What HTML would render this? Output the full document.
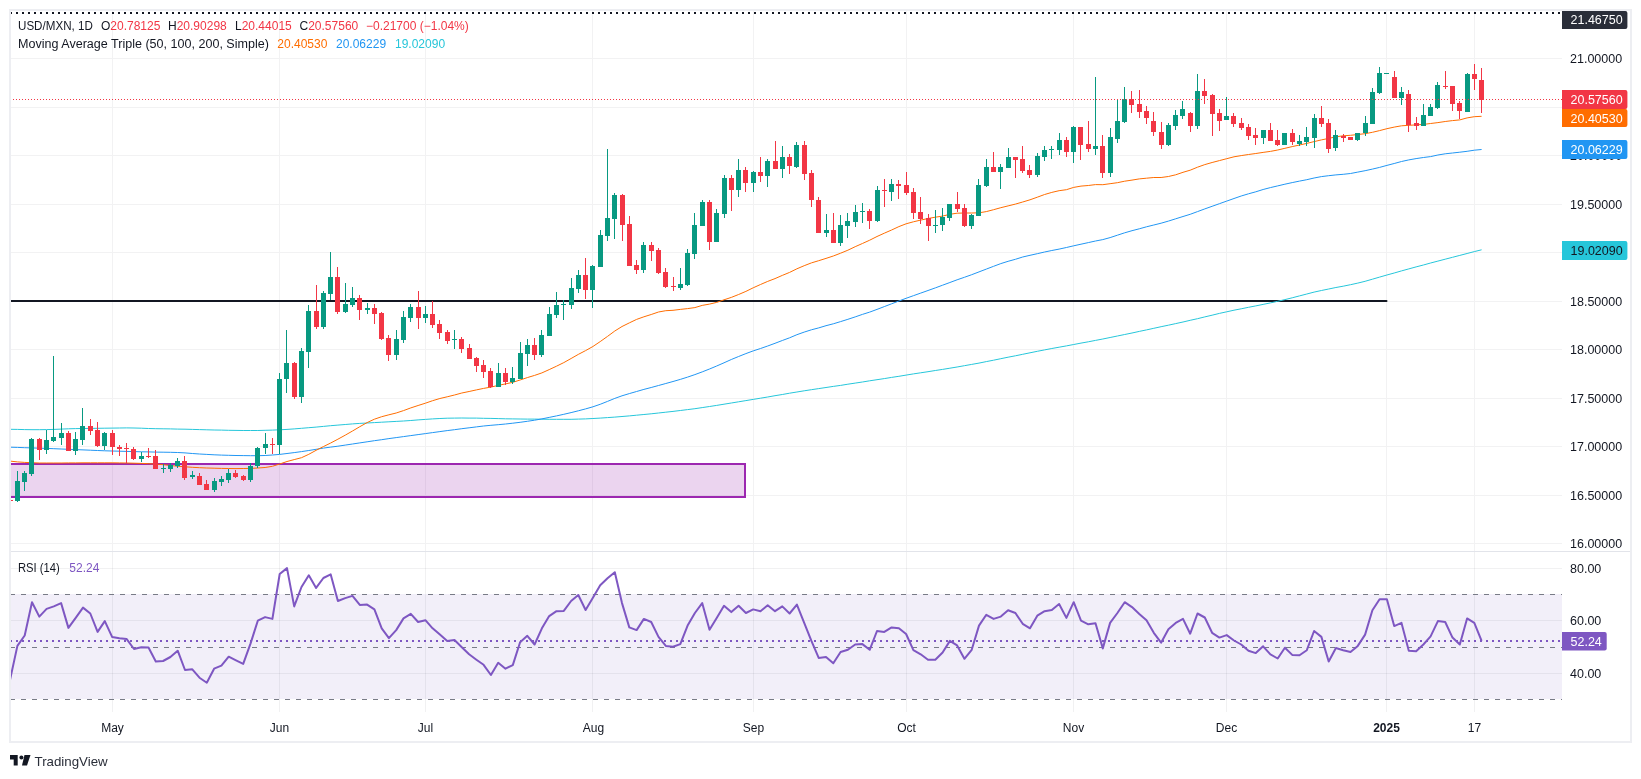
<!DOCTYPE html>
<html><head><meta charset="utf-8"><title>USD/MXN chart</title>
<style>html,body{margin:0;padding:0;background:#ffffff;}body{width:1641px;height:779px;overflow:hidden;font-family:"Liberation Sans",sans-serif;}svg{display:block;will-change:transform;}</style>
</head><body>
<svg width="1641" height="779" viewBox="0 0 1641 779" shape-rendering="auto">
<defs><clipPath id="pc"><rect x="10" y="11" width="1552" height="540"/></clipPath><clipPath id="rc"><rect x="10" y="552" width="1552" height="160"/></clipPath></defs>
<rect x="11" y="58" width="1551" height="1" fill="#f2f2f3"/>
<rect x="11" y="107" width="1551" height="1" fill="#f2f2f3"/>
<rect x="11" y="155" width="1551" height="1" fill="#f2f2f3"/>
<rect x="11" y="204" width="1551" height="1" fill="#f2f2f3"/>
<rect x="11" y="252" width="1551" height="1" fill="#f2f2f3"/>
<rect x="11" y="301" width="1551" height="1" fill="#f2f2f3"/>
<rect x="11" y="349" width="1551" height="1" fill="#f2f2f3"/>
<rect x="11" y="398" width="1551" height="1" fill="#f2f2f3"/>
<rect x="11" y="446" width="1551" height="1" fill="#f2f2f3"/>
<rect x="11" y="495" width="1551" height="1" fill="#f2f2f3"/>
<rect x="11" y="543" width="1551" height="1" fill="#f2f2f3"/>
<rect x="11" y="594" width="1551" height="105" fill="#f2eff9"/>
<rect x="11" y="568" width="1551" height="1" fill="#2a2e39" fill-opacity="0.065"/>
<rect x="11" y="620" width="1551" height="1" fill="#2a2e39" fill-opacity="0.065"/>
<rect x="11" y="673" width="1551" height="1" fill="#2a2e39" fill-opacity="0.065"/>
<rect x="112" y="11" width="1" height="540" fill="#f2f2f3"/>
<rect x="112" y="552" width="1" height="160" fill="#2a2e39" fill-opacity="0.065"/>
<rect x="279" y="11" width="1" height="540" fill="#f2f2f3"/>
<rect x="279" y="552" width="1" height="160" fill="#2a2e39" fill-opacity="0.065"/>
<rect x="425" y="11" width="1" height="540" fill="#f2f2f3"/>
<rect x="425" y="552" width="1" height="160" fill="#2a2e39" fill-opacity="0.065"/>
<rect x="592" y="11" width="1" height="540" fill="#f2f2f3"/>
<rect x="592" y="552" width="1" height="160" fill="#2a2e39" fill-opacity="0.065"/>
<rect x="753" y="11" width="1" height="540" fill="#f2f2f3"/>
<rect x="753" y="552" width="1" height="160" fill="#2a2e39" fill-opacity="0.065"/>
<rect x="906" y="11" width="1" height="540" fill="#f2f2f3"/>
<rect x="906" y="552" width="1" height="160" fill="#2a2e39" fill-opacity="0.065"/>
<rect x="1073" y="11" width="1" height="540" fill="#f2f2f3"/>
<rect x="1073" y="552" width="1" height="160" fill="#2a2e39" fill-opacity="0.065"/>
<rect x="1226" y="11" width="1" height="540" fill="#f2f2f3"/>
<rect x="1226" y="552" width="1" height="160" fill="#2a2e39" fill-opacity="0.065"/>
<rect x="1386" y="11" width="1" height="540" fill="#f2f2f3"/>
<rect x="1386" y="552" width="1" height="160" fill="#2a2e39" fill-opacity="0.065"/>
<rect x="1474" y="11" width="1" height="540" fill="#f2f2f3"/>
<rect x="1474" y="552" width="1" height="160" fill="#2a2e39" fill-opacity="0.065"/>
<rect x="10" y="551" width="1621" height="1" fill="#e2e4ea"/>
<g clip-path="url(#pc)">
<rect x="10" y="464" width="735" height="33" fill="#9c27b0" fill-opacity="0.2" stroke="#9c27b0" stroke-width="2"/>
<line x1="10" y1="301" x2="1386.5" y2="301" stroke="#131722" stroke-width="2" stroke-linecap="round"/>
<polyline points="10.1,429.3 17.4,429.4 24.7,429.6 32.0,429.7 39.3,429.7 46.6,429.6 53.8,429.4 61.1,429.1 68.4,428.8 75.7,428.6 83.0,428.5 90.3,428.4 97.6,428.3 104.8,428.2 112.1,428.1 119.4,428.0 126.7,427.9 134.0,428.0 141.3,428.2 148.5,428.5 155.8,428.7 163.1,428.8 170.4,428.9 177.7,429.1 185.0,429.2 192.3,429.4 199.5,429.6 206.8,429.8 214.1,430.0 221.4,430.1 228.7,430.3 236.0,430.4 243.2,430.5 250.5,430.5 257.8,430.5 265.1,430.3 272.4,430.1 279.7,429.8 287.0,429.4 294.2,428.9 301.5,428.3 308.8,427.7 316.1,427.1 323.4,426.4 330.7,425.7 337.9,425.1 345.2,424.5 352.5,423.9 359.8,423.4 367.1,423.0 374.4,422.6 381.7,422.2 388.9,421.8 396.2,421.4 403.5,421.0 410.8,420.5 418.1,419.9 425.4,419.4 432.6,418.9 439.9,418.5 447.2,418.2 454.5,418.1 461.8,418.0 469.1,418.1 476.4,418.1 483.6,418.3 490.9,418.4 498.2,418.6 505.5,418.8 512.8,418.9 520.1,419.0 527.3,419.1 534.6,419.1 541.9,419.2 549.2,419.3 556.5,419.3 563.8,419.3 571.1,419.3 578.3,419.1 585.6,418.9 592.9,418.5 600.2,418.1 607.5,417.6 614.8,417.1 622.0,416.5 629.3,415.9 636.6,415.2 643.9,414.5 651.2,413.8 658.5,413.0 665.8,412.2 673.0,411.4 680.3,410.5 687.6,409.6 694.9,408.7 702.2,407.6 709.5,406.5 716.7,405.4 724.0,404.2 731.3,403.0 738.6,401.8 745.9,400.6 753.2,399.4 760.5,398.2 767.7,397.0 775.0,395.7 782.3,394.5 789.6,393.2 796.9,392.0 804.2,390.8 811.4,389.7 818.7,388.6 826.0,387.5 833.3,386.4 840.6,385.4 847.9,384.2 855.2,383.1 862.4,382.0 869.7,380.8 877.0,379.7 884.3,378.6 891.6,377.4 898.9,376.3 906.1,375.1 913.4,373.9 920.7,372.8 928.0,371.7 935.3,370.5 942.6,369.4 949.9,368.2 957.1,367.0 964.4,365.7 971.7,364.4 979.0,363.1 986.3,361.6 993.6,360.2 1000.8,358.7 1008.1,357.2 1015.4,355.8 1022.7,354.3 1030.0,352.8 1037.3,351.3 1044.6,349.9 1051.8,348.5 1059.1,347.2 1066.4,345.9 1073.7,344.5 1081.0,343.1 1088.3,341.8 1095.5,340.4 1102.8,339.0 1110.1,337.5 1117.4,336.0 1124.7,334.5 1132.0,333.0 1139.3,331.4 1146.5,329.9 1153.8,328.3 1161.1,326.7 1168.4,325.2 1175.7,323.6 1183.0,322.0 1190.2,320.3 1197.5,318.7 1204.8,316.9 1212.1,315.2 1219.4,313.4 1226.7,311.8 1234.0,310.2 1241.2,308.8 1248.5,307.3 1255.8,305.9 1263.1,304.4 1270.4,302.9 1277.7,301.3 1284.9,299.6 1292.2,297.8 1299.5,295.9 1306.8,294.0 1314.1,292.1 1321.4,290.5 1328.7,289.0 1335.9,287.5 1343.2,286.2 1350.5,284.7 1357.8,283.1 1365.1,281.3 1372.4,279.2 1379.6,277.1 1386.9,275.0 1394.2,273.0 1401.5,270.9 1408.8,268.9 1416.1,266.9 1423.4,265.0 1430.6,263.0 1437.9,261.1 1445.2,259.2 1452.5,257.3 1459.8,255.4 1467.1,253.5 1474.3,251.6 1481.6,249.8" fill="none" stroke="#26c6da" stroke-width="1" stroke-linejoin="round"/>
<polyline points="10.1,447.2 17.4,447.4 24.7,447.7 32.0,447.9 39.3,448.2 46.6,448.4 53.8,448.7 61.1,449.0 68.4,449.3 75.7,449.6 83.0,449.9 90.3,450.2 97.6,450.5 104.8,450.8 112.1,451.0 119.4,451.2 126.7,451.4 134.0,451.6 141.3,451.8 148.5,451.9 155.8,452.1 163.1,452.2 170.4,452.3 177.7,452.5 185.0,452.9 192.3,453.5 199.5,454.0 206.8,454.4 214.1,454.8 221.4,455.1 228.7,455.3 236.0,455.5 243.2,455.6 250.5,455.7 257.8,455.7 265.1,455.5 272.4,455.0 279.7,454.4 287.0,453.5 294.2,452.6 301.5,451.6 308.8,450.5 316.1,449.3 323.4,448.1 330.7,447.1 337.9,446.2 345.2,445.1 352.5,444.0 359.8,442.9 367.1,441.8 374.4,440.7 381.7,439.7 388.9,438.6 396.2,437.6 403.5,436.6 410.8,435.6 418.1,434.6 425.4,433.6 432.6,432.6 439.9,431.6 447.2,430.6 454.5,429.7 461.8,428.7 469.1,427.8 476.4,426.9 483.6,426.0 490.9,425.3 498.2,424.7 505.5,424.0 512.8,423.2 520.1,422.3 527.3,421.3 534.6,420.2 541.9,418.9 549.2,417.4 556.5,415.9 563.8,414.3 571.1,412.6 578.3,410.8 585.6,408.9 592.9,406.8 600.2,404.3 607.5,401.4 614.8,398.4 622.0,395.8 629.3,393.6 636.6,391.5 643.9,389.4 651.2,387.5 658.5,385.5 665.8,383.5 673.0,381.5 680.3,379.4 687.6,377.1 694.9,374.6 702.2,371.9 709.5,369.0 716.7,366.0 724.0,362.8 731.3,359.5 738.6,356.5 745.9,353.6 753.2,350.9 760.5,348.5 767.7,346.0 775.0,343.3 782.3,340.5 789.6,337.8 796.9,334.7 804.2,332.1 811.4,329.8 818.7,327.9 826.0,325.7 833.3,323.8 840.6,321.6 847.9,319.3 855.2,316.9 862.4,314.4 869.7,312.1 877.0,309.4 884.3,306.6 891.6,303.8 898.9,301.0 906.1,298.3 913.4,295.7 920.7,293.1 928.0,290.5 935.3,287.9 942.6,285.2 949.9,282.5 957.1,279.8 964.4,277.3 971.7,274.7 979.0,271.9 986.3,269.1 993.6,266.3 1000.8,263.6 1008.1,261.3 1015.4,259.3 1022.7,257.0 1030.0,255.3 1037.3,253.7 1044.6,252.0 1051.8,250.5 1059.1,249.1 1066.4,247.5 1073.7,245.8 1081.0,244.2 1088.3,242.6 1095.5,241.0 1102.8,239.6 1110.1,237.6 1117.4,235.2 1124.7,232.8 1132.0,230.7 1139.3,228.8 1146.5,226.8 1153.8,225.0 1161.1,223.2 1168.4,221.1 1175.7,218.8 1183.0,216.5 1190.2,214.3 1197.5,211.6 1204.8,208.9 1212.1,206.3 1219.4,203.7 1226.7,201.1 1234.0,198.5 1241.2,196.0 1248.5,193.8 1255.8,191.8 1263.1,189.5 1270.4,187.6 1277.7,185.9 1284.9,184.2 1292.2,182.6 1299.5,181.1 1306.8,179.7 1314.1,178.0 1321.4,176.6 1328.7,175.7 1335.9,174.9 1343.2,174.3 1350.5,173.5 1357.8,172.1 1365.1,170.7 1372.4,169.1 1379.6,167.4 1386.9,165.4 1394.2,163.5 1401.5,161.5 1408.8,159.9 1416.1,158.6 1423.4,157.5 1430.6,156.6 1437.9,155.0 1445.2,153.8 1452.5,153.0 1459.8,152.2 1467.1,151.3 1474.3,150.2 1481.6,149.5" fill="none" stroke="#2196f3" stroke-width="1" stroke-linejoin="round"/>
<polyline points="10.1,461.1 17.4,461.9 24.7,462.4 32.0,462.7 39.3,463.0 46.6,463.0 53.8,463.0 61.1,463.0 68.4,462.9 75.7,462.9 83.0,462.8 90.3,462.8 97.6,462.8 104.8,462.8 112.1,462.8 119.4,462.9 126.7,463.0 134.0,463.2 141.3,463.4 148.5,463.7 155.8,464.1 163.1,464.7 170.4,465.5 177.7,466.2 185.0,466.8 192.3,467.3 199.5,467.7 206.8,468.0 214.1,468.2 221.4,468.4 228.7,468.5 236.0,468.6 243.2,468.5 250.5,468.4 257.8,468.0 265.1,467.5 272.4,466.3 279.7,464.0 287.0,461.5 294.2,459.6 301.5,457.7 308.8,454.3 316.1,450.3 323.4,446.6 330.7,443.0 337.9,439.2 345.2,435.2 352.5,431.0 359.8,426.7 367.1,422.6 374.4,419.2 381.7,416.7 388.9,414.8 396.2,413.0 403.5,410.6 410.8,407.9 418.1,405.5 425.4,403.2 432.6,400.7 439.9,398.5 447.2,396.8 454.5,395.0 461.8,393.0 469.1,391.5 476.4,389.9 483.6,388.4 490.9,387.1 498.2,385.4 505.5,383.9 512.8,382.3 520.1,380.0 527.3,377.6 534.6,375.4 541.9,372.9 549.2,369.6 556.5,366.2 563.8,362.6 571.1,358.5 578.3,354.4 585.6,350.6 592.9,346.5 600.2,341.6 607.5,336.4 614.8,331.0 622.0,326.5 629.3,322.9 636.6,319.4 643.9,316.8 651.2,314.5 658.5,312.0 665.8,310.7 673.0,310.3 680.3,309.4 687.6,308.6 694.9,307.6 702.2,305.4 709.5,304.1 716.7,302.4 724.0,299.8 731.3,297.4 738.6,294.5 745.9,291.4 753.2,287.8 760.5,284.5 767.7,281.4 775.0,278.6 782.3,275.4 789.6,272.4 796.9,268.8 804.2,265.7 811.4,262.9 818.7,260.7 826.0,258.4 833.3,256.0 840.6,253.2 847.9,250.2 855.2,246.7 862.4,243.5 869.7,240.2 877.0,236.5 884.3,233.2 891.6,230.0 898.9,226.6 906.1,223.8 913.4,221.8 920.7,220.1 928.0,218.5 935.3,217.2 942.6,216.1 949.9,214.3 957.1,213.2 964.4,213.0 971.7,213.0 979.0,212.8 986.3,211.6 993.6,209.7 1000.8,207.7 1008.1,205.9 1015.4,204.1 1022.7,202.0 1030.0,199.8 1037.3,197.2 1044.6,194.5 1051.8,192.4 1059.1,190.7 1066.4,189.7 1073.7,187.4 1081.0,186.1 1088.3,185.5 1095.5,184.6 1102.8,184.7 1110.1,183.7 1117.4,182.7 1124.7,181.2 1132.0,180.1 1139.3,178.9 1146.5,178.2 1153.8,177.5 1161.1,177.5 1168.4,176.5 1175.7,174.8 1183.0,172.3 1190.2,170.2 1197.5,167.2 1204.8,164.6 1212.1,162.5 1219.4,160.6 1226.7,158.7 1234.0,156.8 1241.2,155.6 1248.5,154.5 1255.8,153.5 1263.1,152.4 1270.4,151.4 1277.7,150.0 1284.9,148.3 1292.2,146.6 1299.5,145.0 1306.8,143.4 1314.1,141.6 1321.4,139.9 1328.7,138.4 1335.9,136.8 1343.2,135.8 1350.5,135.3 1357.8,134.5 1365.1,133.7 1372.4,132.3 1379.6,130.6 1386.9,128.7 1394.2,127.1 1401.5,125.8 1408.8,125.3 1416.1,124.9 1423.4,124.4 1430.6,123.5 1437.9,122.6 1445.2,121.5 1452.5,120.6 1459.8,119.9 1467.1,117.9 1474.3,116.7 1481.6,116.3" fill="none" stroke="#ff6d00" stroke-width="1" stroke-linejoin="round"/>
<rect x="10" y="496" width="1" height="11" fill="#f23645"/>
<rect x="8" y="500" width="5" height="1" fill="#f23645"/>
<rect x="17" y="471" width="1" height="31" fill="#089981"/>
<rect x="15" y="481" width="5" height="20" fill="#089981"/>
<rect x="24" y="471" width="1" height="20" fill="#089981"/>
<rect x="22" y="473" width="5" height="9" fill="#089981"/>
<rect x="31" y="438" width="1" height="38" fill="#089981"/>
<rect x="29" y="439" width="5" height="35" fill="#089981"/>
<rect x="39" y="438" width="1" height="22" fill="#f23645"/>
<rect x="37" y="439" width="5" height="11" fill="#f23645"/>
<rect x="46" y="430" width="1" height="24" fill="#089981"/>
<rect x="44" y="440" width="5" height="10" fill="#089981"/>
<rect x="53" y="356" width="1" height="86" fill="#089981"/>
<rect x="51" y="437" width="5" height="4" fill="#089981"/>
<rect x="61" y="423" width="1" height="22" fill="#089981"/>
<rect x="59" y="433" width="5" height="5" fill="#089981"/>
<rect x="68" y="431" width="1" height="20" fill="#f23645"/>
<rect x="66" y="433" width="5" height="18" fill="#f23645"/>
<rect x="75" y="432" width="1" height="23" fill="#089981"/>
<rect x="73" y="439" width="5" height="12" fill="#089981"/>
<rect x="82" y="408" width="1" height="37" fill="#089981"/>
<rect x="80" y="426" width="5" height="14" fill="#089981"/>
<rect x="90" y="419" width="1" height="16" fill="#f23645"/>
<rect x="88" y="426" width="5" height="5" fill="#f23645"/>
<rect x="97" y="422" width="1" height="25" fill="#f23645"/>
<rect x="95" y="430" width="5" height="16" fill="#f23645"/>
<rect x="104" y="432" width="1" height="18" fill="#089981"/>
<rect x="102" y="433" width="5" height="13" fill="#089981"/>
<rect x="112" y="430" width="1" height="25" fill="#f23645"/>
<rect x="110" y="433" width="5" height="14" fill="#f23645"/>
<rect x="119" y="445" width="1" height="11" fill="#f23645"/>
<rect x="117" y="447" width="5" height="2" fill="#f23645"/>
<rect x="126" y="443" width="1" height="20" fill="#f23645"/>
<rect x="124" y="448" width="5" height="1" fill="#f23645"/>
<rect x="133" y="447" width="1" height="13" fill="#f23645"/>
<rect x="131" y="449" width="5" height="10" fill="#f23645"/>
<rect x="141" y="452" width="1" height="10" fill="#089981"/>
<rect x="139" y="456" width="5" height="3" fill="#089981"/>
<rect x="148" y="448" width="1" height="10" fill="#f23645"/>
<rect x="146" y="456" width="5" height="1" fill="#f23645"/>
<rect x="155" y="450" width="1" height="19" fill="#f23645"/>
<rect x="153" y="456" width="5" height="13" fill="#f23645"/>
<rect x="163" y="464" width="1" height="9" fill="#089981"/>
<rect x="161" y="468" width="5" height="1" fill="#089981"/>
<rect x="170" y="463" width="1" height="9" fill="#089981"/>
<rect x="168" y="465" width="5" height="4" fill="#089981"/>
<rect x="177" y="458" width="1" height="10" fill="#089981"/>
<rect x="175" y="461" width="5" height="5" fill="#089981"/>
<rect x="184" y="456" width="1" height="24" fill="#f23645"/>
<rect x="182" y="461" width="5" height="17" fill="#f23645"/>
<rect x="192" y="471" width="1" height="8" fill="#089981"/>
<rect x="190" y="475" width="5" height="2" fill="#089981"/>
<rect x="199" y="473" width="1" height="12" fill="#f23645"/>
<rect x="197" y="476" width="5" height="9" fill="#f23645"/>
<rect x="206" y="480" width="1" height="10" fill="#f23645"/>
<rect x="204" y="484" width="5" height="6" fill="#f23645"/>
<rect x="214" y="478" width="1" height="14" fill="#089981"/>
<rect x="212" y="481" width="5" height="9" fill="#089981"/>
<rect x="221" y="476" width="1" height="10" fill="#089981"/>
<rect x="219" y="479" width="5" height="3" fill="#089981"/>
<rect x="228" y="469" width="1" height="14" fill="#089981"/>
<rect x="226" y="473" width="5" height="7" fill="#089981"/>
<rect x="235" y="470" width="1" height="8" fill="#f23645"/>
<rect x="233" y="473" width="5" height="4" fill="#f23645"/>
<rect x="243" y="475" width="1" height="6" fill="#f23645"/>
<rect x="241" y="476" width="5" height="4" fill="#f23645"/>
<rect x="250" y="463" width="1" height="19" fill="#089981"/>
<rect x="248" y="466" width="5" height="14" fill="#089981"/>
<rect x="257" y="447" width="1" height="21" fill="#089981"/>
<rect x="255" y="448" width="5" height="18" fill="#089981"/>
<rect x="265" y="433" width="1" height="21" fill="#089981"/>
<rect x="263" y="444" width="5" height="4" fill="#089981"/>
<rect x="272" y="438" width="1" height="16" fill="#f23645"/>
<rect x="270" y="444" width="5" height="1" fill="#f23645"/>
<rect x="279" y="373" width="1" height="81" fill="#089981"/>
<rect x="277" y="379" width="5" height="66" fill="#089981"/>
<rect x="286" y="330" width="1" height="63" fill="#089981"/>
<rect x="284" y="363" width="5" height="16" fill="#089981"/>
<rect x="294" y="362" width="1" height="37" fill="#f23645"/>
<rect x="292" y="363" width="5" height="34" fill="#f23645"/>
<rect x="301" y="348" width="1" height="55" fill="#089981"/>
<rect x="299" y="351" width="5" height="46" fill="#089981"/>
<rect x="308" y="305" width="1" height="63" fill="#089981"/>
<rect x="306" y="311" width="5" height="41" fill="#089981"/>
<rect x="316" y="285" width="1" height="44" fill="#f23645"/>
<rect x="314" y="311" width="5" height="16" fill="#f23645"/>
<rect x="323" y="291" width="1" height="38" fill="#089981"/>
<rect x="321" y="293" width="5" height="34" fill="#089981"/>
<rect x="330" y="252" width="1" height="48" fill="#089981"/>
<rect x="328" y="277" width="5" height="17" fill="#089981"/>
<rect x="337" y="267" width="1" height="47" fill="#f23645"/>
<rect x="335" y="277" width="5" height="35" fill="#f23645"/>
<rect x="345" y="283" width="1" height="30" fill="#089981"/>
<rect x="343" y="304" width="5" height="8" fill="#089981"/>
<rect x="352" y="287" width="1" height="20" fill="#089981"/>
<rect x="350" y="298" width="5" height="7" fill="#089981"/>
<rect x="359" y="295" width="1" height="25" fill="#f23645"/>
<rect x="357" y="298" width="5" height="12" fill="#f23645"/>
<rect x="367" y="303" width="1" height="11" fill="#089981"/>
<rect x="365" y="308" width="5" height="2" fill="#089981"/>
<rect x="374" y="304" width="1" height="20" fill="#f23645"/>
<rect x="372" y="308" width="5" height="6" fill="#f23645"/>
<rect x="381" y="312" width="1" height="28" fill="#f23645"/>
<rect x="379" y="313" width="5" height="26" fill="#f23645"/>
<rect x="388" y="335" width="1" height="26" fill="#f23645"/>
<rect x="386" y="338" width="5" height="17" fill="#f23645"/>
<rect x="396" y="330" width="1" height="30" fill="#089981"/>
<rect x="394" y="339" width="5" height="16" fill="#089981"/>
<rect x="403" y="311" width="1" height="32" fill="#089981"/>
<rect x="401" y="317" width="5" height="23" fill="#089981"/>
<rect x="410" y="304" width="1" height="18" fill="#089981"/>
<rect x="408" y="307" width="5" height="11" fill="#089981"/>
<rect x="418" y="291" width="1" height="38" fill="#f23645"/>
<rect x="416" y="307" width="5" height="11" fill="#f23645"/>
<rect x="425" y="306" width="1" height="17" fill="#089981"/>
<rect x="423" y="314" width="5" height="4" fill="#089981"/>
<rect x="432" y="301" width="1" height="27" fill="#f23645"/>
<rect x="430" y="314" width="5" height="11" fill="#f23645"/>
<rect x="439" y="320" width="1" height="19" fill="#f23645"/>
<rect x="437" y="324" width="5" height="9" fill="#f23645"/>
<rect x="447" y="330" width="1" height="14" fill="#f23645"/>
<rect x="445" y="332" width="5" height="9" fill="#f23645"/>
<rect x="454" y="330" width="1" height="19" fill="#089981"/>
<rect x="452" y="339" width="5" height="1" fill="#089981"/>
<rect x="461" y="337" width="1" height="16" fill="#f23645"/>
<rect x="459" y="339" width="5" height="10" fill="#f23645"/>
<rect x="469" y="344" width="1" height="15" fill="#f23645"/>
<rect x="467" y="348" width="5" height="11" fill="#f23645"/>
<rect x="476" y="357" width="1" height="15" fill="#f23645"/>
<rect x="474" y="358" width="5" height="8" fill="#f23645"/>
<rect x="483" y="360" width="1" height="18" fill="#f23645"/>
<rect x="481" y="365" width="5" height="7" fill="#f23645"/>
<rect x="490" y="368" width="1" height="20" fill="#f23645"/>
<rect x="488" y="371" width="5" height="16" fill="#f23645"/>
<rect x="498" y="363" width="1" height="24" fill="#089981"/>
<rect x="496" y="373" width="5" height="14" fill="#089981"/>
<rect x="505" y="368" width="1" height="17" fill="#f23645"/>
<rect x="503" y="373" width="5" height="9" fill="#f23645"/>
<rect x="512" y="367" width="1" height="17" fill="#089981"/>
<rect x="510" y="378" width="5" height="4" fill="#089981"/>
<rect x="520" y="342" width="1" height="37" fill="#089981"/>
<rect x="518" y="353" width="5" height="26" fill="#089981"/>
<rect x="527" y="339" width="1" height="27" fill="#089981"/>
<rect x="525" y="345" width="5" height="9" fill="#089981"/>
<rect x="534" y="338" width="1" height="22" fill="#f23645"/>
<rect x="532" y="345" width="5" height="10" fill="#f23645"/>
<rect x="541" y="330" width="1" height="27" fill="#089981"/>
<rect x="539" y="335" width="5" height="20" fill="#089981"/>
<rect x="549" y="307" width="1" height="29" fill="#089981"/>
<rect x="547" y="314" width="5" height="22" fill="#089981"/>
<rect x="556" y="292" width="1" height="26" fill="#089981"/>
<rect x="554" y="305" width="5" height="10" fill="#089981"/>
<rect x="563" y="300" width="1" height="20" fill="#089981"/>
<rect x="561" y="304" width="5" height="1" fill="#089981"/>
<rect x="571" y="278" width="1" height="31" fill="#089981"/>
<rect x="569" y="288" width="5" height="17" fill="#089981"/>
<rect x="578" y="270" width="1" height="23" fill="#089981"/>
<rect x="576" y="275" width="5" height="14" fill="#089981"/>
<rect x="585" y="258" width="1" height="41" fill="#f23645"/>
<rect x="583" y="275" width="5" height="15" fill="#f23645"/>
<rect x="592" y="265" width="1" height="43" fill="#089981"/>
<rect x="590" y="266" width="5" height="24" fill="#089981"/>
<rect x="600" y="230" width="1" height="37" fill="#089981"/>
<rect x="598" y="235" width="5" height="32" fill="#089981"/>
<rect x="607" y="149" width="1" height="92" fill="#089981"/>
<rect x="605" y="218" width="5" height="18" fill="#089981"/>
<rect x="614" y="193" width="1" height="46" fill="#089981"/>
<rect x="612" y="195" width="5" height="24" fill="#089981"/>
<rect x="622" y="194" width="1" height="47" fill="#f23645"/>
<rect x="620" y="195" width="5" height="30" fill="#f23645"/>
<rect x="629" y="216" width="1" height="50" fill="#f23645"/>
<rect x="627" y="224" width="5" height="42" fill="#f23645"/>
<rect x="636" y="260" width="1" height="14" fill="#f23645"/>
<rect x="634" y="265" width="5" height="5" fill="#f23645"/>
<rect x="643" y="242" width="1" height="31" fill="#089981"/>
<rect x="641" y="245" width="5" height="25" fill="#089981"/>
<rect x="651" y="242" width="1" height="19" fill="#f23645"/>
<rect x="649" y="245" width="5" height="6" fill="#f23645"/>
<rect x="658" y="248" width="1" height="26" fill="#f23645"/>
<rect x="656" y="250" width="5" height="23" fill="#f23645"/>
<rect x="665" y="268" width="1" height="20" fill="#f23645"/>
<rect x="663" y="272" width="5" height="15" fill="#f23645"/>
<rect x="673" y="277" width="1" height="14" fill="#f23645"/>
<rect x="671" y="286" width="5" height="1" fill="#f23645"/>
<rect x="680" y="268" width="1" height="22" fill="#089981"/>
<rect x="678" y="284" width="5" height="4" fill="#089981"/>
<rect x="687" y="249" width="1" height="37" fill="#089981"/>
<rect x="685" y="253" width="5" height="32" fill="#089981"/>
<rect x="694" y="213" width="1" height="46" fill="#089981"/>
<rect x="692" y="225" width="5" height="29" fill="#089981"/>
<rect x="702" y="200" width="1" height="26" fill="#089981"/>
<rect x="700" y="202" width="5" height="24" fill="#089981"/>
<rect x="709" y="200" width="1" height="50" fill="#f23645"/>
<rect x="707" y="202" width="5" height="40" fill="#f23645"/>
<rect x="716" y="209" width="1" height="33" fill="#089981"/>
<rect x="714" y="213" width="5" height="29" fill="#089981"/>
<rect x="724" y="175" width="1" height="43" fill="#089981"/>
<rect x="722" y="178" width="5" height="36" fill="#089981"/>
<rect x="731" y="175" width="1" height="36" fill="#f23645"/>
<rect x="729" y="178" width="5" height="12" fill="#f23645"/>
<rect x="738" y="159" width="1" height="38" fill="#089981"/>
<rect x="736" y="170" width="5" height="20" fill="#089981"/>
<rect x="745" y="167" width="1" height="25" fill="#f23645"/>
<rect x="743" y="170" width="5" height="13" fill="#f23645"/>
<rect x="753" y="171" width="1" height="21" fill="#089981"/>
<rect x="751" y="172" width="5" height="11" fill="#089981"/>
<rect x="760" y="157" width="1" height="25" fill="#f23645"/>
<rect x="758" y="172" width="5" height="4" fill="#f23645"/>
<rect x="767" y="159" width="1" height="28" fill="#089981"/>
<rect x="765" y="161" width="5" height="15" fill="#089981"/>
<rect x="775" y="141" width="1" height="28" fill="#f23645"/>
<rect x="773" y="161" width="5" height="8" fill="#f23645"/>
<rect x="782" y="146" width="1" height="32" fill="#089981"/>
<rect x="780" y="157" width="5" height="12" fill="#089981"/>
<rect x="789" y="154" width="1" height="20" fill="#f23645"/>
<rect x="787" y="157" width="5" height="9" fill="#f23645"/>
<rect x="796" y="142" width="1" height="26" fill="#089981"/>
<rect x="794" y="145" width="5" height="22" fill="#089981"/>
<rect x="804" y="141" width="1" height="39" fill="#f23645"/>
<rect x="802" y="145" width="5" height="29" fill="#f23645"/>
<rect x="811" y="170" width="1" height="37" fill="#f23645"/>
<rect x="809" y="173" width="5" height="27" fill="#f23645"/>
<rect x="818" y="197" width="1" height="36" fill="#f23645"/>
<rect x="816" y="200" width="5" height="33" fill="#f23645"/>
<rect x="826" y="214" width="1" height="23" fill="#089981"/>
<rect x="824" y="230" width="5" height="3" fill="#089981"/>
<rect x="833" y="213" width="1" height="30" fill="#f23645"/>
<rect x="831" y="230" width="5" height="13" fill="#f23645"/>
<rect x="840" y="215" width="1" height="31" fill="#089981"/>
<rect x="838" y="225" width="5" height="18" fill="#089981"/>
<rect x="847" y="213" width="1" height="25" fill="#089981"/>
<rect x="845" y="221" width="5" height="5" fill="#089981"/>
<rect x="855" y="205" width="1" height="22" fill="#089981"/>
<rect x="853" y="212" width="5" height="10" fill="#089981"/>
<rect x="862" y="203" width="1" height="20" fill="#089981"/>
<rect x="860" y="211" width="5" height="1" fill="#089981"/>
<rect x="869" y="209" width="1" height="20" fill="#f23645"/>
<rect x="867" y="211" width="5" height="10" fill="#f23645"/>
<rect x="877" y="186" width="1" height="36" fill="#089981"/>
<rect x="875" y="190" width="5" height="31" fill="#089981"/>
<rect x="884" y="179" width="1" height="28" fill="#f23645"/>
<rect x="882" y="190" width="5" height="1" fill="#f23645"/>
<rect x="891" y="179" width="1" height="22" fill="#089981"/>
<rect x="889" y="184" width="5" height="8" fill="#089981"/>
<rect x="898" y="180" width="1" height="19" fill="#f23645"/>
<rect x="896" y="184" width="5" height="2" fill="#f23645"/>
<rect x="906" y="172" width="1" height="23" fill="#f23645"/>
<rect x="904" y="185" width="5" height="8" fill="#f23645"/>
<rect x="913" y="188" width="1" height="31" fill="#f23645"/>
<rect x="911" y="192" width="5" height="21" fill="#f23645"/>
<rect x="920" y="197" width="1" height="27" fill="#f23645"/>
<rect x="918" y="212" width="5" height="7" fill="#f23645"/>
<rect x="928" y="214" width="1" height="27" fill="#f23645"/>
<rect x="926" y="218" width="5" height="8" fill="#f23645"/>
<rect x="935" y="210" width="1" height="23" fill="#089981"/>
<rect x="933" y="225" width="5" height="1" fill="#089981"/>
<rect x="942" y="208" width="1" height="23" fill="#089981"/>
<rect x="940" y="217" width="5" height="8" fill="#089981"/>
<rect x="949" y="204" width="1" height="17" fill="#089981"/>
<rect x="947" y="204" width="5" height="14" fill="#089981"/>
<rect x="957" y="192" width="1" height="20" fill="#f23645"/>
<rect x="955" y="204" width="5" height="5" fill="#f23645"/>
<rect x="964" y="204" width="1" height="23" fill="#f23645"/>
<rect x="962" y="208" width="5" height="18" fill="#f23645"/>
<rect x="971" y="214" width="1" height="15" fill="#089981"/>
<rect x="969" y="215" width="5" height="11" fill="#089981"/>
<rect x="978" y="179" width="1" height="37" fill="#089981"/>
<rect x="976" y="185" width="5" height="31" fill="#089981"/>
<rect x="986" y="159" width="1" height="28" fill="#089981"/>
<rect x="984" y="167" width="5" height="19" fill="#089981"/>
<rect x="993" y="152" width="1" height="20" fill="#f23645"/>
<rect x="991" y="167" width="5" height="5" fill="#f23645"/>
<rect x="1000" y="164" width="1" height="25" fill="#089981"/>
<rect x="998" y="167" width="5" height="5" fill="#089981"/>
<rect x="1008" y="148" width="1" height="20" fill="#089981"/>
<rect x="1006" y="157" width="5" height="11" fill="#089981"/>
<rect x="1015" y="157" width="1" height="21" fill="#f23645"/>
<rect x="1013" y="157" width="5" height="3" fill="#f23645"/>
<rect x="1022" y="146" width="1" height="27" fill="#f23645"/>
<rect x="1020" y="159" width="5" height="12" fill="#f23645"/>
<rect x="1029" y="165" width="1" height="13" fill="#f23645"/>
<rect x="1027" y="170" width="5" height="5" fill="#f23645"/>
<rect x="1037" y="153" width="1" height="24" fill="#089981"/>
<rect x="1035" y="156" width="5" height="19" fill="#089981"/>
<rect x="1044" y="146" width="1" height="15" fill="#089981"/>
<rect x="1042" y="150" width="5" height="7" fill="#089981"/>
<rect x="1051" y="146" width="1" height="13" fill="#089981"/>
<rect x="1049" y="149" width="5" height="1" fill="#089981"/>
<rect x="1059" y="133" width="1" height="22" fill="#089981"/>
<rect x="1057" y="140" width="5" height="10" fill="#089981"/>
<rect x="1066" y="137" width="1" height="20" fill="#f23645"/>
<rect x="1064" y="140" width="5" height="12" fill="#f23645"/>
<rect x="1073" y="126" width="1" height="37" fill="#089981"/>
<rect x="1071" y="127" width="5" height="25" fill="#089981"/>
<rect x="1080" y="127" width="1" height="33" fill="#f23645"/>
<rect x="1078" y="127" width="5" height="18" fill="#f23645"/>
<rect x="1088" y="121" width="1" height="31" fill="#f23645"/>
<rect x="1086" y="144" width="5" height="5" fill="#f23645"/>
<rect x="1095" y="77" width="1" height="78" fill="#089981"/>
<rect x="1093" y="146" width="5" height="3" fill="#089981"/>
<rect x="1102" y="135" width="1" height="43" fill="#f23645"/>
<rect x="1100" y="146" width="5" height="27" fill="#f23645"/>
<rect x="1110" y="128" width="1" height="49" fill="#089981"/>
<rect x="1108" y="137" width="5" height="36" fill="#089981"/>
<rect x="1117" y="99" width="1" height="44" fill="#089981"/>
<rect x="1115" y="121" width="5" height="18" fill="#089981"/>
<rect x="1124" y="87" width="1" height="36" fill="#089981"/>
<rect x="1122" y="99" width="5" height="23" fill="#089981"/>
<rect x="1131" y="91" width="1" height="22" fill="#f23645"/>
<rect x="1129" y="99" width="5" height="6" fill="#f23645"/>
<rect x="1139" y="90" width="1" height="28" fill="#f23645"/>
<rect x="1137" y="104" width="5" height="8" fill="#f23645"/>
<rect x="1146" y="106" width="1" height="18" fill="#f23645"/>
<rect x="1144" y="111" width="5" height="7" fill="#f23645"/>
<rect x="1153" y="112" width="1" height="24" fill="#f23645"/>
<rect x="1151" y="121" width="5" height="11" fill="#f23645"/>
<rect x="1161" y="122" width="1" height="27" fill="#f23645"/>
<rect x="1159" y="132" width="5" height="13" fill="#f23645"/>
<rect x="1168" y="123" width="1" height="23" fill="#089981"/>
<rect x="1166" y="125" width="5" height="20" fill="#089981"/>
<rect x="1175" y="110" width="1" height="20" fill="#089981"/>
<rect x="1173" y="115" width="5" height="11" fill="#089981"/>
<rect x="1182" y="101" width="1" height="18" fill="#089981"/>
<rect x="1180" y="109" width="5" height="7" fill="#089981"/>
<rect x="1190" y="112" width="1" height="20" fill="#f23645"/>
<rect x="1188" y="113" width="5" height="13" fill="#f23645"/>
<rect x="1197" y="74" width="1" height="55" fill="#089981"/>
<rect x="1195" y="91" width="5" height="35" fill="#089981"/>
<rect x="1204" y="79" width="1" height="25" fill="#f23645"/>
<rect x="1202" y="91" width="5" height="5" fill="#f23645"/>
<rect x="1212" y="94" width="1" height="42" fill="#f23645"/>
<rect x="1210" y="95" width="5" height="19" fill="#f23645"/>
<rect x="1219" y="109" width="1" height="22" fill="#f23645"/>
<rect x="1217" y="113" width="5" height="8" fill="#f23645"/>
<rect x="1226" y="97" width="1" height="23" fill="#089981"/>
<rect x="1224" y="116" width="5" height="4" fill="#089981"/>
<rect x="1233" y="113" width="1" height="14" fill="#f23645"/>
<rect x="1231" y="116" width="5" height="8" fill="#f23645"/>
<rect x="1241" y="118" width="1" height="12" fill="#f23645"/>
<rect x="1239" y="123" width="5" height="5" fill="#f23645"/>
<rect x="1248" y="124" width="1" height="16" fill="#f23645"/>
<rect x="1246" y="127" width="5" height="9" fill="#f23645"/>
<rect x="1255" y="128" width="1" height="17" fill="#f23645"/>
<rect x="1253" y="135" width="5" height="3" fill="#f23645"/>
<rect x="1263" y="130" width="1" height="14" fill="#089981"/>
<rect x="1261" y="130" width="5" height="8" fill="#089981"/>
<rect x="1270" y="123" width="1" height="18" fill="#f23645"/>
<rect x="1268" y="130" width="5" height="11" fill="#f23645"/>
<rect x="1277" y="130" width="1" height="16" fill="#f23645"/>
<rect x="1275" y="140" width="5" height="5" fill="#f23645"/>
<rect x="1284" y="133" width="1" height="12" fill="#089981"/>
<rect x="1282" y="133" width="5" height="12" fill="#089981"/>
<rect x="1292" y="129" width="1" height="16" fill="#f23645"/>
<rect x="1290" y="133" width="5" height="9" fill="#f23645"/>
<rect x="1299" y="135" width="1" height="11" fill="#089981"/>
<rect x="1297" y="141" width="5" height="3" fill="#089981"/>
<rect x="1306" y="127" width="1" height="19" fill="#089981"/>
<rect x="1304" y="137" width="5" height="5" fill="#089981"/>
<rect x="1314" y="114" width="1" height="34" fill="#089981"/>
<rect x="1312" y="118" width="5" height="20" fill="#089981"/>
<rect x="1321" y="106" width="1" height="21" fill="#f23645"/>
<rect x="1319" y="118" width="5" height="6" fill="#f23645"/>
<rect x="1328" y="119" width="1" height="34" fill="#f23645"/>
<rect x="1326" y="123" width="5" height="26" fill="#f23645"/>
<rect x="1335" y="130" width="1" height="21" fill="#089981"/>
<rect x="1333" y="135" width="5" height="13" fill="#089981"/>
<rect x="1343" y="134" width="1" height="8" fill="#f23645"/>
<rect x="1341" y="136" width="5" height="2" fill="#f23645"/>
<rect x="1350" y="137" width="1" height="3" fill="#f23645"/>
<rect x="1348" y="137" width="5" height="3" fill="#f23645"/>
<rect x="1357" y="133" width="1" height="8" fill="#089981"/>
<rect x="1355" y="133" width="5" height="7" fill="#089981"/>
<rect x="1365" y="116" width="1" height="20" fill="#089981"/>
<rect x="1363" y="123" width="5" height="10" fill="#089981"/>
<rect x="1372" y="88" width="1" height="36" fill="#089981"/>
<rect x="1370" y="92" width="5" height="32" fill="#089981"/>
<rect x="1379" y="67" width="1" height="27" fill="#089981"/>
<rect x="1377" y="73" width="5" height="20" fill="#089981"/>
<rect x="1386" y="73" width="1" height="1" fill="#089981"/>
<rect x="1384" y="73" width="5" height="1" fill="#089981"/>
<rect x="1394" y="71" width="1" height="27" fill="#f23645"/>
<rect x="1392" y="77" width="5" height="21" fill="#f23645"/>
<rect x="1401" y="87" width="1" height="18" fill="#089981"/>
<rect x="1399" y="92" width="5" height="6" fill="#089981"/>
<rect x="1408" y="90" width="1" height="42" fill="#f23645"/>
<rect x="1406" y="94" width="5" height="31" fill="#f23645"/>
<rect x="1416" y="117" width="1" height="13" fill="#f23645"/>
<rect x="1414" y="123" width="5" height="3" fill="#f23645"/>
<rect x="1423" y="104" width="1" height="22" fill="#089981"/>
<rect x="1421" y="115" width="5" height="11" fill="#089981"/>
<rect x="1430" y="104" width="1" height="12" fill="#089981"/>
<rect x="1428" y="107" width="5" height="9" fill="#089981"/>
<rect x="1437" y="82" width="1" height="27" fill="#089981"/>
<rect x="1435" y="85" width="5" height="23" fill="#089981"/>
<rect x="1445" y="71" width="1" height="18" fill="#f23645"/>
<rect x="1443" y="86" width="5" height="1" fill="#f23645"/>
<rect x="1452" y="86" width="1" height="25" fill="#f23645"/>
<rect x="1450" y="86" width="5" height="18" fill="#f23645"/>
<rect x="1459" y="101" width="1" height="18" fill="#f23645"/>
<rect x="1457" y="103" width="5" height="8" fill="#f23645"/>
<rect x="1467" y="73" width="1" height="39" fill="#089981"/>
<rect x="1465" y="74" width="5" height="38" fill="#089981"/>
<rect x="1474" y="64" width="1" height="26" fill="#f23645"/>
<rect x="1472" y="74" width="5" height="5" fill="#f23645"/>
<rect x="1481" y="68" width="1" height="45" fill="#f23645"/>
<rect x="1479" y="80" width="5" height="20" fill="#f23645"/>
<line x1="10" y1="99.5" x2="1562" y2="99.5" stroke="#f23645" stroke-width="1" stroke-dasharray="1 2"/>
<line x1="10" y1="13" x2="1562" y2="13" stroke="#131722" stroke-width="2" stroke-dasharray="2 4"/>
</g>
<g clip-path="url(#rc)">
<line x1="10" y1="594.5" x2="1562" y2="594.5" stroke="#787b86" stroke-width="1" stroke-dasharray="5 6"/>
<line x1="10" y1="647.5" x2="1562" y2="647.5" stroke="#787b86" stroke-width="1" stroke-dasharray="5 6"/>
<line x1="10" y1="699.5" x2="1562" y2="699.5" stroke="#787b86" stroke-width="1" stroke-dasharray="5 6"/>
<line x1="10" y1="641" x2="1562" y2="641" stroke="#7e57c2" stroke-width="2" stroke-dasharray="2 4"/>
<polyline points="10.1,679.5 17.4,645.9 24.7,635.5 32.0,602.2 39.3,616.6 46.6,608.9 53.8,606.4 61.1,603.1 68.4,627.9 75.7,617.9 83.0,607.6 90.3,613.5 97.6,631.9 104.8,621.1 112.1,636.9 119.4,638.2 126.7,639.1 134.0,649.0 141.3,647.2 148.5,647.5 155.8,661.5 163.1,661.0 170.4,657.0 177.7,650.7 185.0,670.0 192.3,669.3 199.5,677.7 206.8,682.7 214.1,668.7 221.4,665.7 228.7,656.7 236.0,660.3 243.2,663.9 250.5,643.6 257.8,620.7 265.1,617.1 272.4,618.9 279.7,574.0 287.0,568.1 294.2,606.4 301.5,587.0 308.8,575.3 316.1,587.9 323.4,578.0 330.7,574.4 337.9,601.0 345.2,598.1 352.5,595.9 359.8,604.9 367.1,604.6 374.4,609.4 381.7,628.3 388.9,638.2 396.2,630.1 403.5,618.4 410.8,613.9 418.1,622.0 425.4,620.2 432.6,628.3 439.9,634.6 447.2,640.9 454.5,640.0 461.8,647.2 469.1,654.3 476.4,659.7 483.6,664.8 490.9,675.0 498.2,662.8 505.5,668.7 512.8,665.1 520.1,642.3 527.3,635.8 534.6,644.5 541.9,628.3 549.2,616.1 556.5,611.2 563.8,610.9 571.1,601.0 578.3,595.0 585.6,610.0 592.9,597.7 600.2,585.2 607.5,578.3 614.8,572.2 622.0,603.1 629.3,627.4 636.6,630.1 643.9,618.9 651.2,622.0 658.5,636.9 665.8,645.9 673.0,646.8 680.3,644.1 687.6,625.6 694.9,613.0 702.2,603.1 709.5,629.7 716.7,617.9 724.0,605.8 731.3,612.1 738.6,605.8 745.9,613.0 753.2,609.4 760.5,611.2 767.7,605.3 775.0,611.2 782.3,606.4 789.6,613.5 796.9,604.6 804.2,622.9 811.4,640.9 818.7,657.9 826.0,657.0 833.3,663.3 840.6,652.0 847.9,649.8 855.2,644.5 862.4,644.1 869.7,649.8 877.0,631.0 884.3,631.9 891.6,627.4 898.9,628.3 906.1,634.0 913.4,650.2 920.7,654.3 928.0,659.7 935.3,659.7 942.6,652.5 949.9,640.9 957.1,645.4 964.4,658.8 971.7,649.8 979.0,625.6 986.3,614.8 993.6,618.9 1000.8,616.6 1008.1,610.3 1015.4,613.0 1022.7,623.8 1030.0,628.3 1037.3,615.7 1044.6,611.2 1051.8,610.0 1059.1,604.0 1066.4,617.9 1073.7,602.2 1081.0,620.7 1088.3,624.3 1095.5,623.3 1102.8,648.4 1110.1,622.9 1117.4,613.0 1124.7,602.2 1132.0,607.1 1139.3,613.9 1146.5,620.2 1153.8,632.8 1161.1,642.7 1168.4,629.2 1175.7,622.9 1183.0,618.9 1190.2,633.7 1197.5,613.5 1204.8,617.5 1212.1,632.8 1219.4,637.6 1226.7,635.1 1234.0,640.5 1241.2,644.5 1248.5,650.7 1255.8,653.1 1263.1,646.3 1270.4,654.3 1277.7,658.5 1284.9,647.7 1292.2,654.9 1299.5,655.2 1306.8,650.2 1314.1,631.0 1321.4,636.9 1328.7,661.5 1335.9,648.0 1343.2,650.2 1350.5,652.0 1357.8,645.9 1365.1,634.6 1372.4,610.3 1379.6,599.2 1386.9,599.2 1394.2,626.1 1401.5,622.9 1408.8,650.7 1416.1,651.3 1423.4,644.5 1430.6,636.4 1437.9,621.1 1445.2,622.0 1452.5,637.6 1459.8,644.5 1467.1,618.4 1474.3,622.9 1481.6,640.9" fill="none" stroke="#7e57c2" stroke-width="2" stroke-linejoin="round"/>
</g>
<rect x="10" y="10" width="1621" height="732" fill="none" stroke="#edeef2" stroke-width="2"/>
<text x="1570.0" y="63.0" font-family="Liberation Sans, sans-serif" font-size="12.5" fill="#131722" text-anchor="start" font-weight="normal">21.00000</text>
<text x="1570.0" y="208.5" font-family="Liberation Sans, sans-serif" font-size="12.5" fill="#131722" text-anchor="start" font-weight="normal">19.50000</text>
<text x="1570.0" y="305.5" font-family="Liberation Sans, sans-serif" font-size="12.5" fill="#131722" text-anchor="start" font-weight="normal">18.50000</text>
<text x="1570.0" y="354.0" font-family="Liberation Sans, sans-serif" font-size="12.5" fill="#131722" text-anchor="start" font-weight="normal">18.00000</text>
<text x="1570.0" y="402.5" font-family="Liberation Sans, sans-serif" font-size="12.5" fill="#131722" text-anchor="start" font-weight="normal">17.50000</text>
<text x="1570.0" y="451.0" font-family="Liberation Sans, sans-serif" font-size="12.5" fill="#131722" text-anchor="start" font-weight="normal">17.00000</text>
<text x="1570.0" y="499.5" font-family="Liberation Sans, sans-serif" font-size="12.5" fill="#131722" text-anchor="start" font-weight="normal">16.50000</text>
<text x="1570.0" y="548.0" font-family="Liberation Sans, sans-serif" font-size="12.5" fill="#131722" text-anchor="start" font-weight="normal">16.00000</text>
<text x="1570.0" y="160.0" font-family="Liberation Sans, sans-serif" font-size="12.5" fill="#131722" text-anchor="start" font-weight="normal">20.00000</text>
<path d="M1562 11.0 h63.4 a2 2 0 0 1 2 2 v14.0 a2 2 0 0 1 -2 2 h-63.4 z" fill="#2a2e39"/>
<text x="1570.5" y="23.8" font-family="Liberation Sans, sans-serif" font-size="12.5" fill="#ffffff" text-anchor="start" font-weight="normal">21.46750</text>
<path d="M1562 90.0 h63.4 a2 2 0 0 1 2 2 v15.0 a2 2 0 0 1 -2 2 h-63.4 z" fill="#f23645"/>
<text x="1570.5" y="103.6" font-family="Liberation Sans, sans-serif" font-size="12.5" fill="#ffffff" text-anchor="start" font-weight="normal">20.57560</text>
<path d="M1562 109.0 h63.4 a2 2 0 0 1 2 2 v14.0 a2 2 0 0 1 -2 2 h-63.4 z" fill="#ff6d00"/>
<text x="1570.5" y="122.6" font-family="Liberation Sans, sans-serif" font-size="12.5" fill="#ffffff" text-anchor="start" font-weight="normal">20.40530</text>
<path d="M1562 140.0 h63.4 a2 2 0 0 1 2 2 v15.0 a2 2 0 0 1 -2 2 h-63.4 z" fill="#2196f3"/>
<text x="1570.5" y="153.6" font-family="Liberation Sans, sans-serif" font-size="12.5" fill="#ffffff" text-anchor="start" font-weight="normal">20.06229</text>
<path d="M1562 241.0 h63.4 a2 2 0 0 1 2 2 v15.0 a2 2 0 0 1 -2 2 h-63.4 z" fill="#26c6da"/>
<text x="1570.5" y="254.6" font-family="Liberation Sans, sans-serif" font-size="12.5" fill="#131722" text-anchor="start" font-weight="normal">19.02090</text>
<text x="1570.0" y="573.0" font-family="Liberation Sans, sans-serif" font-size="12.5" fill="#131722" text-anchor="start" font-weight="normal">80.00</text>
<text x="1570.0" y="625.0" font-family="Liberation Sans, sans-serif" font-size="12.5" fill="#131722" text-anchor="start" font-weight="normal">60.00</text>
<text x="1570.0" y="678.0" font-family="Liberation Sans, sans-serif" font-size="12.5" fill="#131722" text-anchor="start" font-weight="normal">40.00</text>
<path d="M1562 632.0 h42.7 a2 2 0 0 1 2 2 v14.5 a2 2 0 0 1 -2 2 h-42.7 z" fill="#7e57c2"/>
<text x="1570.5" y="645.6" font-family="Liberation Sans, sans-serif" font-size="12.5" fill="#ffffff" text-anchor="start" font-weight="normal">52.24</text>
<text x="112.5" y="732.0" font-family="Liberation Sans, sans-serif" font-size="12" fill="#131722" text-anchor="middle" font-weight="normal">May</text>
<text x="279.5" y="732.0" font-family="Liberation Sans, sans-serif" font-size="12" fill="#131722" text-anchor="middle" font-weight="normal">Jun</text>
<text x="425.5" y="732.0" font-family="Liberation Sans, sans-serif" font-size="12" fill="#131722" text-anchor="middle" font-weight="normal">Jul</text>
<text x="593.5" y="732.0" font-family="Liberation Sans, sans-serif" font-size="12" fill="#131722" text-anchor="middle" font-weight="normal">Aug</text>
<text x="753.5" y="732.0" font-family="Liberation Sans, sans-serif" font-size="12" fill="#131722" text-anchor="middle" font-weight="normal">Sep</text>
<text x="906.5" y="732.0" font-family="Liberation Sans, sans-serif" font-size="12" fill="#131722" text-anchor="middle" font-weight="normal">Oct</text>
<text x="1073.5" y="732.0" font-family="Liberation Sans, sans-serif" font-size="12" fill="#131722" text-anchor="middle" font-weight="normal">Nov</text>
<text x="1226.5" y="732.0" font-family="Liberation Sans, sans-serif" font-size="12" fill="#131722" text-anchor="middle" font-weight="normal">Dec</text>
<text x="1386.5" y="732.0" font-family="Liberation Sans, sans-serif" font-size="12" fill="#131722" text-anchor="middle" font-weight="bold">2025</text>
<text x="1474.5" y="732.0" font-family="Liberation Sans, sans-serif" font-size="12" fill="#131722" text-anchor="middle" font-weight="normal">17</text>
<text x="18.0" y="29.7" font-family="Liberation Sans, sans-serif" font-size="12" fill="#131722" textLength="74.8" lengthAdjust="spacingAndGlyphs">USD/MXN, 1D</text>
<text x="101.0" y="29.7" font-family="Liberation Sans, sans-serif" font-size="12" fill="#131722">O<tspan fill="#f23645">20.78125</tspan></text>
<text x="168.0" y="29.7" font-family="Liberation Sans, sans-serif" font-size="12" fill="#131722">H<tspan fill="#f23645">20.90298</tspan></text>
<text x="235.0" y="29.7" font-family="Liberation Sans, sans-serif" font-size="12" fill="#131722">L<tspan fill="#f23645">20.44015</tspan></text>
<text x="299.5" y="29.7" font-family="Liberation Sans, sans-serif" font-size="12" fill="#131722">C<tspan fill="#f23645">20.57560</tspan></text>
<text x="366.0" y="29.7" font-family="Liberation Sans, sans-serif" font-size="12" fill="#f23645">−0.21700 (−1.04%)</text>
<text x="18.0" y="47.8" font-family="Liberation Sans, sans-serif" font-size="12" fill="#131722" textLength="250.9" lengthAdjust="spacingAndGlyphs">Moving Average Triple (50, 100, 200, Simple)</text>
<text x="277.3" y="47.8" font-family="Liberation Sans, sans-serif" font-size="12" fill="#ff6d00">20.40530</text>
<text x="336.0" y="47.8" font-family="Liberation Sans, sans-serif" font-size="12" fill="#2196f3">20.06229</text>
<text x="395.0" y="47.8" font-family="Liberation Sans, sans-serif" font-size="12" fill="#26c6da">19.02090</text>
<text x="18.0" y="572.0" font-family="Liberation Sans, sans-serif" font-size="12" fill="#131722" textLength="41.7" lengthAdjust="spacingAndGlyphs">RSI (14)</text>
<text x="69.3" y="572.0" font-family="Liberation Sans, sans-serif" font-size="12" fill="#7e57c2">52.24</text>
<path d="M10 755 H17.7 V765.4 H13.7 V759.4 H10 Z" fill="#131722"/>
<circle cx="21.4" cy="757.4" r="2" fill="#131722"/>
<path d="M24.5 755 H30.5 L27 765.4 H22 Z" fill="#131722"/>
<text x="34.5" y="765.8" font-family="Liberation Sans, sans-serif" font-size="13.3" fill="#2a2e39" text-anchor="start" font-weight="normal">TradingView</text>
</svg>
</body></html>
